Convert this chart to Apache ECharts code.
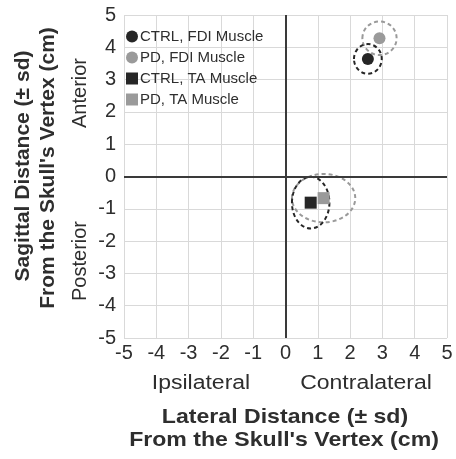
<!DOCTYPE html>
<html>
<head>
<meta charset="utf-8">
<script src="https://cdn.jsdelivr.net/npm/echarts@6/dist/echarts.min.js"></script>
<style>
  html, body { margin: 0; padding: 0; background: #fff; }
  #chart { width: 456px; height: 459px; }
</style>
</head>
<body>
<div id="chart"></div>
<script>
// Mean hotspot positions [lateral, sagittal] in cm from the vertex
const ctrlFdi = [2.55, 3.64];
const pdFdi = [2.91, 4.28];
const ctrlTa = [0.78, -0.81];
const pdTa = [1.18, -0.67];

// Standard deviations [lateral, sagittal]
const ctrlFdiSd = [0.43, 0.46];
const pdFdiSd = [0.53, 0.52];
const ctrlTaSd = [0.58, 0.80];
const pdTaSd = [0.98, 0.75];

const axisMin = -5;
const axisMax = 5;
const axisStep = 1;

const seriesNames = ['CTRL, FDI Muscle', 'PD, FDI Muscle', 'CTRL, TA Muscle', 'PD, TA Muscle'];

const FONT = 'Liberation Sans, Arial, Helvetica, sans-serif';
const TEXT = '#2e2e2e';
const DARK = '#262626';
const LIGHT = '#9a9a9a';

function sdEllipse(center, sd, color) {
  return {
    type: 'custom',
    silent: true,
    z: 3,
    data: [[center[0], center[1], sd[0], sd[1]]],
    renderItem: function (params, api) {
      const c = api.coord([api.value(0), api.value(1)]);
      const s = api.size([api.value(2), api.value(3)]);
      return {
        type: 'ellipse',
        shape: { cx: c[0], cy: c[1], rx: s[0], ry: s[1] },
        style: { fill: 'none', stroke: color, lineWidth: 2, lineDash: [4, 3] }
      };
    }
  };
}

function label(text, x, y, opts) {
  return {
    type: 'text', x: x, y: y,
    rotation: opts.vertical ? Math.PI / 2 : 0,
    scaleX: opts.stretch || 1,
    style: {
      text: text,
      font: (opts.bold ? 'bold ' : '') + opts.size + 'px ' + FONT,
      fill: TEXT, align: 'center', verticalAlign: 'middle'
    }
  };
}

const chart = echarts.init(document.getElementById('chart'));
chart.setOption({
  backgroundColor: '#fff',
  animation: false,
  grid: { left: 124, right: 9, top: 15, bottom: 121 },
  legend: {
    data: seriesNames,
    orient: 'vertical',
    left: 126,
    top: 29,
    itemWidth: 12,
    itemHeight: 12,
    itemGap: 6,
    textStyle: { fontFamily: FONT, fontSize: 15, color: TEXT, padding: [0, 0, 0, -3] },
    padding: 0
  },
  xAxis: {
    type: 'value', min: axisMin, max: axisMax, interval: axisStep,
    axisLine: { show: false, onZero: false },
    axisTick: { show: false },
    splitLine: { lineStyle: { color: '#d9d9d9', width: 1 } },
    axisLabel: { fontFamily: FONT, fontSize: 20, color: TEXT, margin: 5 }
  },
  yAxis: {
    type: 'value', min: axisMin, max: axisMax, interval: axisStep,
    axisLine: { show: false, onZero: false },
    axisTick: { show: false },
    splitLine: { lineStyle: { color: '#d9d9d9', width: 1 } },
    axisLabel: { fontFamily: FONT, fontSize: 20, color: TEXT, margin: 8 }
  },
  series: [
    sdEllipse(pdFdi, pdFdiSd, LIGHT),
    sdEllipse(ctrlFdi, ctrlFdiSd, DARK),
    sdEllipse(pdTa, pdTaSd, LIGHT),
    sdEllipse(ctrlTa, ctrlTaSd, DARK),
    {
      name: seriesNames[0], type: 'scatter', symbol: 'circle', symbolSize: 12, z: 5,
      itemStyle: { color: DARK, opacity: 1 }, data: [ctrlFdi],
      markLine: {
        silent: true, symbol: 'none', animation: false,
        label: { show: false },
        lineStyle: { color: '#3a3a3a', width: 2, type: 'solid' },
        data: [{ xAxis: 0 }, { yAxis: 0 }]
      }
    },
    {
      name: seriesNames[1], type: 'scatter', symbol: 'circle', symbolSize: 12, z: 5,
      itemStyle: { color: LIGHT, opacity: 1 }, data: [pdFdi]
    },
    {
      name: seriesNames[2], type: 'scatter', symbol: 'rect', symbolSize: 12, z: 5,
      itemStyle: { color: DARK, opacity: 1 }, data: [ctrlTa]
    },
    {
      name: seriesNames[3], type: 'scatter', symbol: 'rect', symbolSize: 12, z: 5,
      itemStyle: { color: LIGHT, opacity: 1 }, data: [pdTa]
    }
  ],
  graphic: [
    label('Sagittal Distance (± sd)', 23, 166, { vertical: true, bold: true, size: 21 }),
    label("From the Skull's Vertex (cm)", 48, 168, { vertical: true, bold: true, size: 21 }),
    label('Anterior', 80, 93, { vertical: true, size: 20 }),
    label('Posterior', 80, 261, { vertical: true, size: 20 }),
    label('Ipsilateral', 201, 383, { size: 20, stretch: 1.15 }),
    label('Contralateral', 366, 383, { size: 20, stretch: 1.15 }),
    label('Lateral Distance (± sd)', 285, 417, { bold: true, size: 21, stretch: 1.1 }),
    label("From the Skull's Vertex (cm)", 284, 440, { bold: true, size: 21, stretch: 1.1 })
  ]
});
</script>
</body>
</html>
